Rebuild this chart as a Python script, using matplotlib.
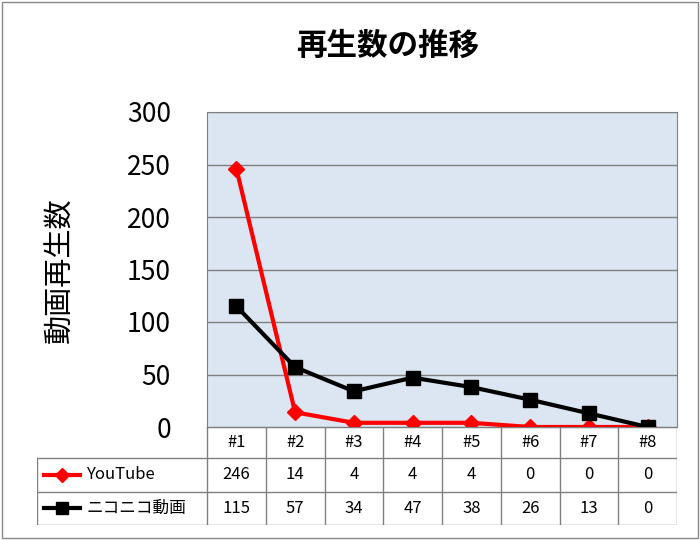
import matplotlib
matplotlib.use("Agg")
import matplotlib.pyplot as plt
from matplotlib.lines import Line2D
from matplotlib.patches import Rectangle

plt.rcParams['font.family'] = ['Noto Sans CJK JP', 'DejaVu Sans']

categories = ["#1", "#2", "#3", "#4", "#5", "#6", "#7", "#8"]
youtube = [246, 14, 4, 4, 4, 0, 0, 0]
nico = [115, 57, 34, 47, 38, 26, 13, 0]
series_names = ["YouTube", "ニコニコ動画"]
yticks = [0, 50, 100, 150, 200, 250, 300]

W, H = 700, 540
fig = plt.figure(figsize=(7, 5.4), dpi=100)
fig.patches.append(Rectangle((2/W, 2/H), 1-4/W, 1-4/H, transform=fig.transFigure,
                             fill=False, ec="#888888", lw=1))

def fx(px): return px / W
def fy(py): return 1 - py / H

x0, x1, ytop, ybot = 207, 677, 112, 427
ax = fig.add_axes([fx(x0), fy(ybot), fx(x1) - fx(x0), fy(ytop) - fy(ybot)])
ax.set_facecolor("#DCE6F2")
xs = list(range(len(categories)))
ax.plot(xs, youtube, color="#FF0000", lw=3, marker="D", ms=8, zorder=3)
ax.plot(xs, nico, color="#000000", lw=3, marker="s", ms=10, zorder=3)
ax.set_xlim(-0.5, 7.5)
ax.set_ylim(0, 300)
ax.set_yticks(yticks)
ax.yaxis.grid(True, color="#808080", lw=1)
ax.set_axisbelow(True)
ax.set_xticks([])
ax.tick_params(axis="y", length=0, labelsize=19, pad=26)
for s in ax.spines.values():
    s.set_color("#808080")
fig.text(fx(388), fy(46), "再生数の推移", fontsize=22, fontweight="bold", ha="center", va="center")
fig.text(fx(60), fy(270), "動画再生数", fontsize=21, rotation=90, ha="center", va="center")

# table
tl, tr, tt, tb = 37, 677, 427, 525
tax = fig.add_axes([fx(tl), fy(tb), fx(tr) - fx(tl), fy(tt) - fy(tb)])
tax.set_xlim(tl, tr)
tax.set_ylim(tb, tt)
tax.axis("off")
colw = (x1 - x0) / len(categories)
rows = [427, 458, 492, 525]
lc = "#808080"
tax.plot([x0, x1], [rows[0], rows[0]], color=lc, lw=1)
for r in rows[1:]:
    tax.plot([tl, tr], [r, r], color=lc, lw=1)
tax.plot([tl, tl], [rows[1], rows[3]], color=lc, lw=1)
for i in range(len(categories) + 1):
    tax.plot([x0 + i * colw] * 2, [rows[0], rows[3]], color=lc, lw=1)
for i, c in enumerate(categories):
    cx = x0 + (i + 0.5) * colw
    tax.text(cx, (rows[0] + rows[1]) / 2, c, ha="center", va="center", fontsize=12)
    tax.text(cx, (rows[1] + rows[2]) / 2, str(youtube[i]), ha="center", va="center", fontsize=12)
    tax.text(cx, (rows[2] + rows[3]) / 2, str(nico[i]), ha="center", va="center", fontsize=12)
styles = [("#FF0000", "D", 7), ("#000000", "s", 9)]
for k, (name, (col, mk, ms)) in enumerate(zip(series_names, styles)):
    cy = (rows[k + 1] + rows[k + 2]) / 2
    tax.add_line(Line2D([44, 62, 80], [cy, cy, cy], color=col, lw=3,
                        marker=mk, ms=ms, markevery=[1]))
    tax.text(86, cy, name, ha="left", va="center", fontsize=12)

fig.savefig("out.png", dpi=100)
